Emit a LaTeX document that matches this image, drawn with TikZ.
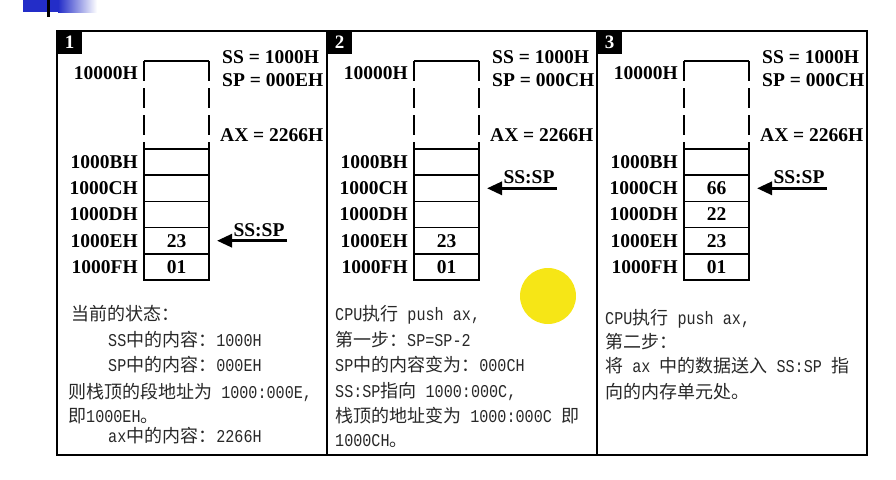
\documentclass[tikz,border=0pt]{standalone}
\usepackage{fontspec}
\setmainfont{Liberation Serif}
\newfontfamily\cjk{Noto Sans CJK SC}
\newfontfamily\mono[FakeStretch=0.84]{Liberation Mono}
\usetikzlibrary{arrows.meta, positioning}
\definecolor{slideblue}{RGB}{35,45,200}
\definecolor{cursoryellow}{RGB}{246,230,22}
\definecolor{txtgray}{RGB}{40,40,40}
\newcommand{\ltn}[1]{{\mono\fontsize{18}{20}\selectfont#1}}

\begin{document}
\begin{tikzpicture}[x=1pt, y=-1pt,
    lbl/.style={font=\bfseries\fontsize{19.5}{20}\selectfont, inner sep=0pt},
    cell/.style={draw, line width=1.6pt, minimum width=65pt, minimum height=26.2pt, inner sep=0pt, outer sep=0pt},
    txt/.style={anchor=west, inner sep=0pt, text=txtgray, font=\cjk\fontsize{18}{20}\selectfont, text height=14pt, text depth=3pt},
    ptr/.style={line width=3pt, -{Triangle[length=15pt,width=13pt]}, shorten >=8pt},
    numbox/.style={fill=black, minimum width=25pt, minimum height=23pt, inner sep=0pt, text=white, font=\bfseries\fontsize{19}{20}\selectfont}]
        \useasboundingbox (0,0) rectangle (896,479);
        \fill[slideblue] (23,0) rectangle (58,12);
        \shade[left color=slideblue, right color=white] (58,0) rectangle (97,12);
        \draw[line width=3pt] (48,0) -- (48,17);
        \fill[cursoryellow] (548,296) circle[radius=28pt];
        \draw[line width=2pt] (57,31) rectangle (867,455);
        \draw[line width=2pt] (327,31) -- (327,455);
        \draw[line width=2pt] (597,31) -- (597,455);
        \foreach \n/\spl in {1/E,2/C,3/C}{
          \begin{scope}[xshift={57+270*(\n-1)}]
            \node[numbox, anchor=north west] (num\n) at (0,31) {\n};
            \draw[line width=1.6pt] (87,61) -- (152,61);
            \draw[line width=1.6pt, dash pattern=on 20pt off 7pt] (87,61) -- (87,149);
            \draw[line width=1.6pt, dash pattern=on 20pt off 7pt] (152,61) -- (152,149);
            \node[lbl, anchor=east] (top\n) at (81,73) {10000H};
            \foreach \a [count=\k from 0] in {B,C,D,E,F}{
              \node[cell] (c\n\a) at (119.5,{162.1+26.2*\k}) {};
              \node[lbl, left=6pt of c\n\a] (adr\n\a) {1000\a H};
            }
            \node[lbl, anchor=west] (ss\n) at (165,57) {SS = 1000H};
            \node[lbl, anchor=west] (spv\n) at (165,80) {SP = 000\spl H};
            \node[lbl, anchor=west] (ax\n) at (163,135) {AX = 2266H};
            \coordinate (tail\n) at ([xshift=78pt]c\n\spl.east);
            \draw[ptr] (tail\n) -- (c\n\spl);
            \node[lbl] (ssp\n) at ([xshift=50pt,yshift=11pt]c\n\spl.east) {SS:SP};
          \end{scope}
        }
        \node[lbl] (v1E) at (c1E) {23};
        \node[lbl] (v1F) at (c1F) {01};
        \node[lbl] (v2E) at (c2E) {23};
        \node[lbl] (v2F) at (c2F) {01};
        \node[lbl] (v3C) at (c3C) {66};
        \node[lbl] (v3D) at (c3D) {22};
        \node[lbl] (v3E) at (c3E) {23};
        \node[lbl] (v3F) at (c3F) {01};
        \node[txt] (s1a) at (71,315) {当前的状态：};
        \node[txt] (s1b) at (108,341) {\ltn{SS}中的内容：\ltn{1000H}};
        \node[txt] (s1c) at (108,366) {\ltn{SP}中的内容：\ltn{000EH}};
        \node[txt] (s1d) at (68,393) {则栈顶的段地址为\ltn{~1000:000E,}};
        \node[txt] (s1e) at (68,417) {即\ltn{1000EH}。};
        \node[txt] (s1f) at (108,437) {\ltn{ax}中的内容：\ltn{2266H}};
        \node[txt] (s2a) at (335,315) {\ltn{CPU}执行\ltn{~push ax,}};
        \node[txt] (s2b) at (335,341) {第一步：\ltn{SP=SP-2}};
        \node[txt] (s2c) at (335,366) {\ltn{SP}中的内容变为：\ltn{000CH}};
        \node[txt] (s2d) at (335,392) {\ltn{SS:SP}指向\ltn{~1000:000C,}};
        \node[txt] (s2e) at (335,417) {栈顶的地址变为\ltn{~1000:000C~}即};
        \node[txt] (s2f) at (335,441) {\ltn{1000CH}。};
        \node[txt] (s3a) at (605,319) {\ltn{CPU}执行\ltn{~push ax,}};
        \node[txt] (s3b) at (605,343) {第二步：};
        \node[txt] (s3c) at (605,367) {将\ltn{~ax~}中的数据送入\ltn{~SS:SP~}指};
        \node[txt] (s3d) at (605,393) {向的内存单元处。};
\end{tikzpicture}
\end{document}
